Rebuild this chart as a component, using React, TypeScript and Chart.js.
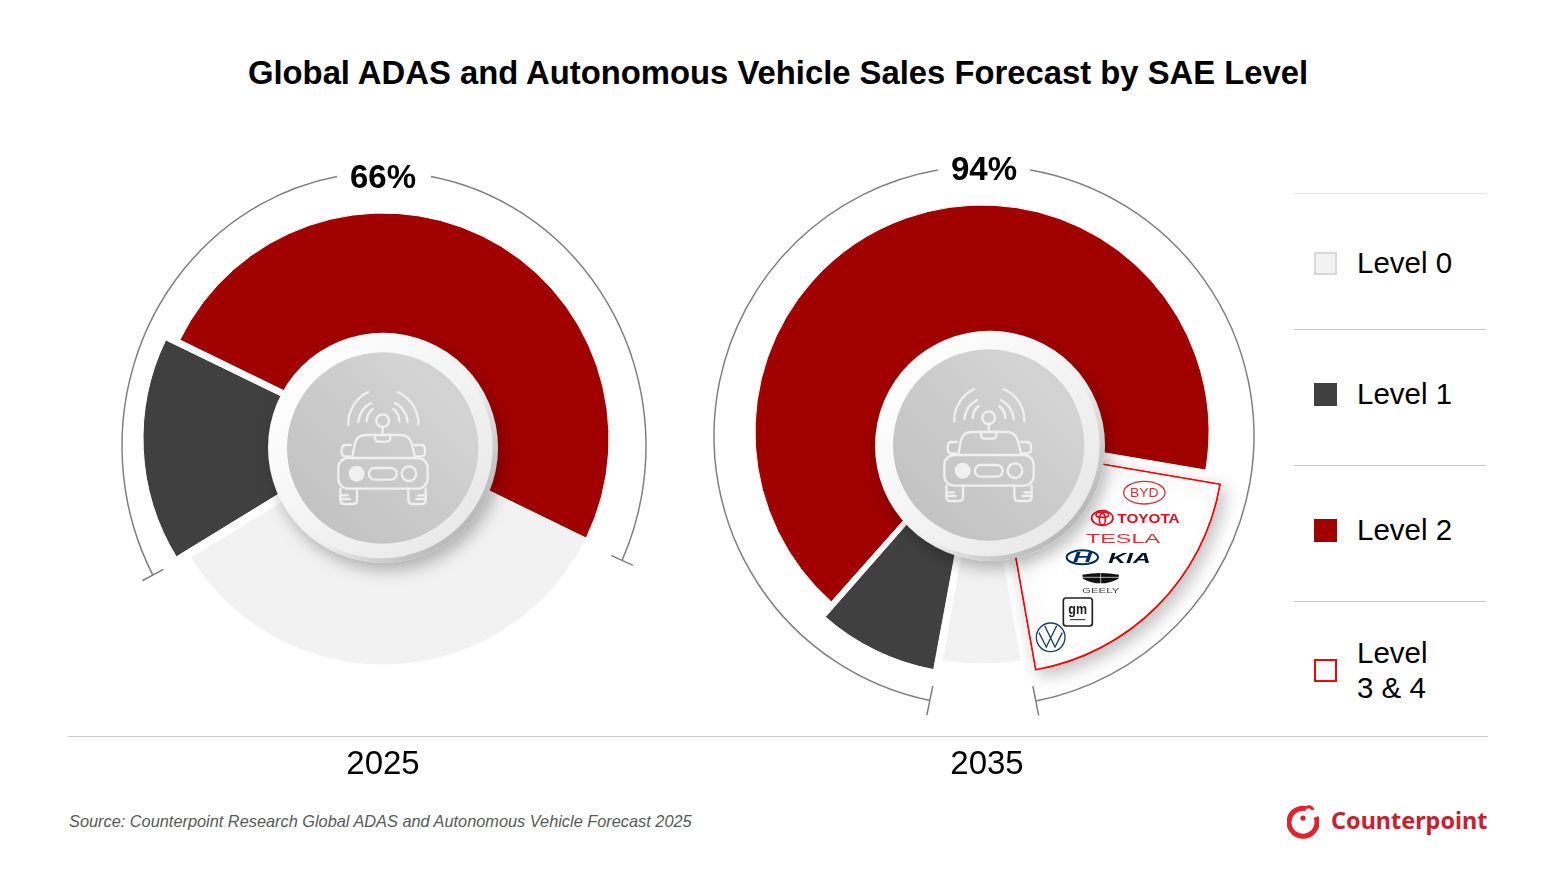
import React, { useEffect, useRef } from "react";
import { Chart, ArcElement, DoughnutController } from "chart.js";

Chart.register(ArcElement, DoughnutController);

const title = "Global ADAS and Autonomous Vehicle Sales Forecast by SAE Level";
const source = "Source: Counterpoint Research Global ADAS and Autonomous Vehicle Forecast 2025";

const levels2025 = ["Level 0", "Level 1", "Level 2"];
const values2025 = [34, 16, 50];
const levels2035 = ["Level 0", "Level 1", "Level 2", "Level 3 & 4"];
const values2035 = [5.6, 8.7, 66, 19.5];
const legendLabels = ["Level 0", "Level 1", "Level 2", "Level\n3 & 4"];

const FONT = "'Liberation Sans', Arial, sans-serif";
const GREY = "#f2f2f2";
const DARK = "#404040";
const RED = "#a00000";
const OUTLINE = "#ff0000";

// bracket round the pie plus the shadow on the exploded slice
const bracketPlugin = {
  id: "bracket",
  afterDatasetUpdate(chart: any, args: any, opts: any) {
    // offset also grows the radius in chart.js, take that back so the slice only moves
    const offsets = chart.data.datasets[0].offset;
    args.meta.data.forEach((arc: any, i: number) => {
      const fix = 1 - Math.sin(Math.min(Math.PI, arc.circumference || 0));
      const grow = (offsets[i] / 4) * fix;
      arc.outerRadius -= grow;
      arc.innerRadius -= grow;
    });
    if (opts.liftIndex != null) args.meta.data[opts.liftIndex].y -= opts.lift;
  },
  afterDatasetsDraw(chart: any, _args: any, opts: any) {
    const ctx = chart.ctx;
    const arcs = chart.getDatasetMeta(0).data;
    if (opts.shadowIndex != null) {
      ctx.save();
      ctx.shadowColor = "rgba(0,0,0,0.26)";
      ctx.shadowBlur = 18;
      ctx.shadowOffsetX = 5;
      ctx.shadowOffsetY = 6;
      arcs[opts.shadowIndex].draw(ctx);
      ctx.restore();
    }
    const start = arcs[1].startAngle + opts.startAdj;
    const end = arcs[arcs.length - 1].endAngle + opts.endAdj;
    const x = arcs[2].x + opts.dx;
    const y = arcs[2].y + opts.dy;
    const top = (Math.PI * 3) / 2;
    ctx.save();
    ctx.strokeStyle = "#808080";
    ctx.lineWidth = 1.5;
    ctx.beginPath();
    ctx.ellipse(x, y, opts.rx, opts.ry, 0, start, top - opts.gap);
    ctx.stroke();
    ctx.beginPath();
    ctx.ellipse(x, y, opts.rx, opts.ry, 0, top + opts.gap, end);
    ctx.stroke();
    [start, end].forEach((a) => {
      const px = x + Math.cos(a) * opts.rx;
      const py = y + Math.sin(a) * opts.ry;
      ctx.beginPath();
      ctx.moveTo(px - Math.cos(a) * opts.tick, py - Math.sin(a) * opts.tick);
      ctx.lineTo(px + Math.cos(a) * opts.tick, py + Math.sin(a) * opts.tick);
      ctx.stroke();
    });
    ctx.restore();
  },
};

interface PieProps {
  labels: string[];
  values: number[];
  colors: string[];
  borders: string[];
  borderWidths: number[];
  offsets: number[];
  rotation: number;
  radius: number;
  cx: number;
  cy: number;
  bracket: any;
}

function Pie({ labels, values, colors, borders, borderWidths, offsets, rotation, radius, cx, cy, bracket }: PieProps) {
  const canvasRef = useRef<HTMLCanvasElement | null>(null);

  useEffect(() => {
    if (!canvasRef.current) return;
    const chart = new Chart(canvasRef.current, {
      type: "doughnut",
      data: {
        labels,
        datasets: [
          {
            data: values,
            backgroundColor: colors,
            borderColor: borders,
            borderWidth: borderWidths,
            borderJoinStyle: "miter",
            offset: offsets,
          },
        ],
      },
      options: {
        responsive: false,
        animation: false,
        devicePixelRatio: 1,
        rotation,
        radius,
        cutout: "30%",
        layout: { padding: 0 },
        plugins: { bracket } as any,
      },
      plugins: [bracketPlugin],
    } as any);
    return () => chart.destroy();
  }, []);

  return (
    <canvas
      ref={canvasRef}
      width={640}
      height={640}
      style={{ position: "absolute", left: cx - 320, top: cy - 320, width: 640, height: 640 }}
    />
  );
}

function arcPath(x1: number, y1: number, x2: number, y2: number, r: number) {
  return `M${x1} ${y1}A${r} ${r} 0 0 1 ${x2} ${y2}`;
}

// grey disc with the car, drawn in a 3x grid
function Hub({ cx, cy, id, sx = 0, sy = 0 }: { cx: number; cy: number; id: string; sx?: number; sy?: number }) {
  const line = { fill: "none", stroke: "#f0f0f0", strokeWidth: 7 };
  return (
    <svg
      viewBox="0 0 780 750"
      width={260}
      height={250}
      style={{ position: "absolute", left: cx - 129, top: cy - 125.7, overflow: "visible" }}
    >
      <defs>
        <linearGradient id={id + "rim"} x1="0.15" y1="0.1" x2="0.9" y2="0.85">
          <stop offset="0" stopColor="#ffffff" />
          <stop offset="0.6" stopColor="#eeeeee" />
          <stop offset="1" stopColor="#b4b4b4" />
        </linearGradient>
        <linearGradient id={id + "ring"} x1="0.1" y1="0.1" x2="0.9" y2="0.9">
          <stop offset="0" stopColor="#ffffff" />
          <stop offset="0.5" stopColor="#f4f4f4" />
          <stop offset="1" stopColor="#e8e8e8" />
        </linearGradient>
        <linearGradient id={id + "disc"} x1="0" y1="1" x2="1" y2="0">
          <stop offset="0" stopColor="#c0c0c0" />
          <stop offset="0.5" stopColor="#cbcbcb" />
          <stop offset="0.8" stopColor="#d4d4d4" />
          <stop offset="1" stopColor="#cccccc" />
        </linearGradient>
        <filter id={id + "drop"} x="-30%" y="-30%" width="160%" height="160%">
          <feDropShadow dx="12" dy="24" stdDeviation="22" floodColor="#000" floodOpacity="0.26" />
        </filter>
      </defs>
      <circle cx={387} cy={377} r={345} fill={`url(#${id}rim)`} filter={`url(#${id}drop)`} />
      <circle cx={382} cy={375} r={334} fill={`url(#${id}ring)`} />
      <g transform={`translate(${sx} ${sy})`}>
        <circle cx={383} cy={375} r={287} fill={`url(#${id}disc)`} />
        <g {...line} strokeLinecap="round" strokeLinejoin="round">
          <path d={arcPath(280, 305, 340, 207, 103)} />
          <path d={arcPath(310, 297, 348, 240, 72)} />
          <path d={arcPath(335, 295, 353, 258, 48)} />
          <path d={arcPath(428, 207, 490, 305, 103)} />
          <path d={arcPath(420, 240, 458, 297, 72)} />
          <path d={arcPath(415, 258, 433, 295, 48)} />
          <circle cx={383} cy={293} r={19} />
          <path d="M383 312V335M360 335V345Q360 356 372 356H394Q406 356 406 345V335" />
          <path d="M292 402L300 360Q306 338 330 336H440Q462 338 470 360L480 402" />
          <path d="M288 366H272Q260 366 260 380V388Q260 400 272 400H285" />
          <path d="M480 366H498Q510 366 510 380V388Q510 400 498 400H483" />
          <rect x={250} y={405} width={268} height={92} rx={30} />
          <rect x={342} y={435} width={83} height={35} rx={17} />
          <circle cx={462} cy={452} r={22} />
          <path d="M256 497V530Q256 543 270 543H292Q306 543 306 530V497M256 517H278M262 528H284" />
          <path d="M460 497V530Q460 543 474 543H498Q512 543 512 530V497M490 517H512M484 528H506" />
        </g>
        <circle cx={305} cy={452} r={24} fill="#f0f0f0" />
      </g>
    </svg>
  );
}

// brand marks in the level 3 & 4 slice, 3x grid from (1020,470)
function BrandLogos() {
  return (
    <svg
      viewBox="0 0 540 570"
      width={180}
      height={190}
      style={{ position: "absolute", left: 1020, top: 470, fontFamily: FONT }}
    >
      <ellipse cx={373} cy={68} rx={62} ry={34} fill="none" stroke="#d9343b" strokeWidth={4} />
      <text x={373} y={82} textAnchor="middle" fontSize={38} fill="#d9343b" textLength={86} lengthAdjust="spacingAndGlyphs">
        BYD
      </text>
      <g fill="none" stroke="#eb0a1e" strokeWidth={5}>
        <ellipse cx={247} cy={144} rx={32} ry={22} />
        <ellipse cx={247} cy={148} rx={9} ry={18} />
        <ellipse cx={247} cy={134} rx={19} ry={8} />
      </g>
      <text x={292} y={159} fontSize={40} fontWeight="bold" fill="#eb0a1e" textLength={187} lengthAdjust="spacingAndGlyphs">
        TOYOTA
      </text>
      <text x={198} y={218} fontSize={38} fill="#e3323a" textLength={222} lengthAdjust="spacingAndGlyphs">
        TESLA
      </text>
      <ellipse cx={187} cy={262} rx={47} ry={21} fill="none" stroke="#002c5f" strokeWidth={6} />
      <text x={187} y={277} textAnchor="middle" fontSize={42} fontWeight="bold" fontStyle="italic" fill="#002c5f" textLength={58} lengthAdjust="spacingAndGlyphs">
        H
      </text>
      <text x={265} y={278} fontSize={44} fontWeight="bold" fontStyle="italic" fill="#05141f" textLength={127} lengthAdjust="spacingAndGlyphs">
        KIA
      </text>
      <path d="M187 314Q242 304 297 314L295 326Q270 340 242 340Q214 340 189 326Z" fill="#111" />
      <path d="M188 322H296M242 308V340" stroke="#fff" strokeWidth={2} />
      <text x={242} y={370} textAnchor="middle" fontSize={23} fill="#444" textLength={112} lengthAdjust="spacingAndGlyphs">
        GEELY
      </text>
      <rect x={130} y={384} width={87} height={84} rx={8} fill="#fff" stroke="#222" strokeWidth={5} />
      <text x={173} y={432} textAnchor="middle" fontSize={42} fontWeight="bold" fill="#222" textLength={56} lengthAdjust="spacingAndGlyphs">
        gm
      </text>
      <path d="M150 449H196" stroke="#222" strokeWidth={3} />
      <circle cx={92} cy={502} r={43} fill="#fff" stroke="#1e3a6e" strokeWidth={4} />
      <path d="M57 488L79 531L92 504L105 531L127 488M74 467L92 504L110 467" fill="none" stroke="#1e3a6e" strokeWidth={4} />
    </svg>
  );
}

function Label({ text, x, y, size, bold, width = 200 }: { text: string; x: number; y: number; size: number; bold?: boolean; width?: number }) {
  return (
    <div
      style={{
        position: "absolute",
        left: x - width / 2,
        top: y - size * 0.6,
        width,
        lineHeight: `${size * 1.2}px`,
        textAlign: "center",
        fontSize: size,
        fontWeight: bold ? "bold" : "normal",
        color: "#000",
      }}
    >
      {text}
    </div>
  );
}

const legendY = [263, 394, 530, 670];
const legendTextY = [262, 393, 529, 670];
const legendSwatch = [
  { background: GREY, border: "2px solid #d9d9d9" },
  { background: DARK, border: "1px solid #404040" },
  { background: RED, border: "1px solid #a00000" },
  { background: "#fff", border: `2.5px solid ${OUTLINE}` },
];
const legendRules = [193, 329, 465, 601];

export default function App() {
  return (
    <div style={{ position: "absolute", left: 0, top: 0, width: 1556, height: 886, background: "#fff", overflow: "hidden", fontFamily: FONT }}>
      <div style={{ position: "absolute", left: 0, width: 1556, top: 53, lineHeight: "40px", textAlign: "center", fontSize: 32.8, fontWeight: "bold", color: "#000" }}>
        {title}
      </div>

      <Pie
        labels={levels2025}
        values={values2025}
        colors={[GREY, DARK, RED]}
        borders={["#fff", "#fff", "#fff"]}
        borderWidths={[1, 1, 1]}
        offsets={[0, 56, 0]}
        rotation={116}
        radius={226}
        cx={383}
        cy={439}
        bracket={{ dx: 1, dy: 7, rx: 262, ry: 274, gap: 0.18, tick: 12, startAdj: 0.061, endAdj: -0.023, liftIndex: 1, lift: 1 }}
      />
      <Pie
        labels={levels2035}
        values={values2035}
        colors={[GREY, DARK, RED, "#fff"]}
        borders={["#fff", "#fff", "#fff", OUTLINE]}
        borderWidths={[1, 1, 1, 1.5]}
        offsets={[20, 64, 0, 80]}
        rotation={170}
        radius={227}
        cx={982}
        cy={432}
        bracket={{ dx: 2, dy: 4, rx: 270, ry: 270, gap: 0.172, tick: 15, startAdj: 0.024, endAdj: -0.0185, shadowIndex: 3 }}
      />
      <BrandLogos />
      <Hub cx={383} cy={448} id="a" sx={3} sy={3} />
      <Hub cx={990} cy={446} id="b" />

      <Label text="66%" x={383} y={177} size={33} bold />
      <Label text="94%" x={984} y={169} size={33} bold />

      <div style={{ position: "absolute", left: 68, top: 736, width: 1420, height: 1, background: "#c8c8c8" }} />
      <Label text="2025" x={383} y={763} size={33} />
      <Label text="2035" x={987} y={763} size={33} />

      {legendRules.map((y, i) => (
        <div key={y} style={{ position: "absolute", left: 1294, top: y, width: 192, height: 1, background: i === 0 ? "#e4e4e4" : "#c8c8c8" }} />
      ))}
      {legendLabels.map((label, i) => (
        <React.Fragment key={label}>
          <div style={{ position: "absolute", left: 1314, top: legendY[i] - 11.5, width: 23, height: 23, boxSizing: "border-box", ...legendSwatch[i] }} />
          <div style={{ position: "absolute", left: 1357, top: legendTextY[i] - (i === 3 ? 35 : 17.5), width: 110, lineHeight: "35px", fontSize: 29.5, color: "#000", whiteSpace: "pre" }}>
            {label}
          </div>
        </React.Fragment>
      ))}

      <div style={{ position: "absolute", left: 69, top: 811, lineHeight: "20px", fontSize: 16.34, fontStyle: "italic", color: "#595959", whiteSpace: "nowrap" }}>
        {source}
      </div>

      <svg width={32} height={40} viewBox="1287 802 32 40" style={{ position: "absolute", left: 1287, top: 802 }}>
        <path d="M1316 817A14 14 0 1 1 1306 808.5" fill="none" stroke="#e8202a" strokeWidth={5} />
        <path d="M1306 808Q1311 805 1313 810" fill="none" stroke="#e8202a" strokeWidth={3} />
        <circle cx={1303} cy={818} r={2.6} fill="#d81e2a" />
      </svg>
      <div style={{ position: "absolute", left: 1331, top: 804, lineHeight: "32px", fontSize: 23.4, fontWeight: "bold", fontFamily: "'Noto Sans', sans-serif", color: "#c8202f", whiteSpace: "nowrap" }}>
        Counterpoint
      </div>
    </div>
  );
}
